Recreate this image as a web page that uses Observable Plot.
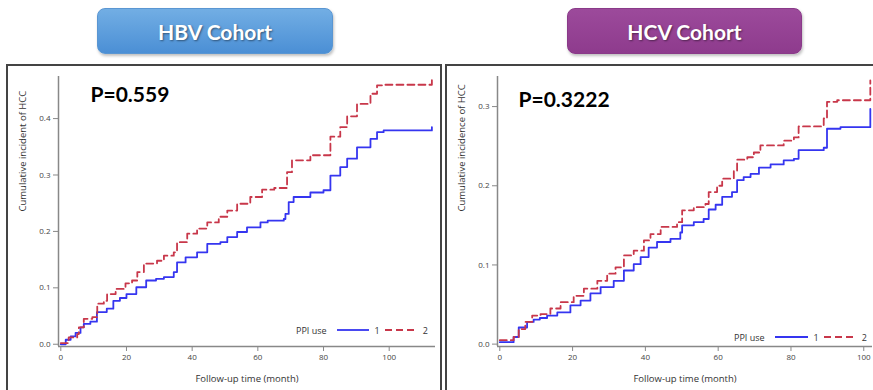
<!DOCTYPE html>
<html>
<head>
<meta charset="utf-8">
<script src="https://cdn.jsdelivr.net/npm/d3@7"></script>
<script src="https://cdn.jsdelivr.net/npm/@observablehq/plot@0.6"></script>
<style>
  html, body { margin: 0; padding: 0; background: #fff; }
  body { width: 873px; height: 390px; position: relative; overflow: hidden; font-family: 'Open Sans', sans-serif; }
  .btn { position: absolute; top: 8px; height: 46px; border-radius: 8px; color: #fff;
         font-family: Lato, 'Open Sans', sans-serif; font-weight: 700; font-size: 21px;
         display: flex; align-items: center; justify-content: center;
         text-shadow: 1px 1px 2px rgba(0,0,0,0.45); box-shadow: 1px 2px 3px rgba(0,0,0,0.25); box-sizing: border-box; }
  #hbv { left: 97px; width: 236px; background: linear-gradient(#72aee4, #4b8fd5); border: 1px solid #5a96d2; }
  #hcv { left: 567px; width: 235px; background: linear-gradient(#9c4a9b, #8e3b8d); border: 1px solid #8a3a89; }
  .box { position: absolute; top: 64px; height: 340px; border: 2px solid #444; box-sizing: border-box; }
  .plot { position: absolute; top: 65px; }
  .legend { position: absolute; display: flex; align-items: center; font-size: 9px; color: #333; height: 12px; }
  .legend svg { display: block; }
</style>
</head>
<body>
<div id="hbv" class="btn">HBV Cohort</div>
<div id="hcv" class="btn">HCV Cohort</div>
<div class="box" style="left:6px;width:436px;"></div>
<div class="box" style="left:445px;width:440px;"></div>
<div id="left" class="plot" style="left:7px;"></div>
<div id="right" class="plot" style="left:446px;"></div>
<div id="legL" class="legend" style="left:296px;top:324px;"></div>
<div id="legR" class="legend" style="left:734px;top:331px;"></div>
<script>
// ---- Data ----
const xTicksHBV = [0, 20, 40, 60, 80, 100];
const yTicksHBV = [0, 0.1, 0.2, 0.3, 0.4];
const xTicksHCV = [0, 20, 40, 60, 80, 100];
const yTicksHCV = [0, 0.1, 0.2, 0.3];
const groups = ["1", "2"];
const pHBV = "P=0.559";
const pHCV = "P=0.3222";

// HBV cohort, PPI use = 1 (time in months, cumulative incidence)
const hbv1T = [0,1.5,3,4.5,6,7,9,11,14,16,18,20,23,26,29,31.4,34.4,35.4,38,41.5,44.6,48.6,50.7,53.7,56.7,60.8,63,67.9,68.4,69.4,70.9,76,80,82.1,85.1,87.2,90.2,94.3,96.3,98.3,113];
const hbv1V = [0,0.008,0.014,0.020,0.030,0.036,0.040,0.057,0.063,0.077,0.082,0.089,0.101,0.113,0.116,0.119,0.128,0.145,0.154,0.163,0.178,0.181,0.190,0.199,0.207,0.216,0.219,0.222,0.231,0.252,0.261,0.269,0.273,0.299,0.314,0.329,0.349,0.364,0.376,0.379,0.385];
// HBV cohort, PPI use = 2
const hbv2T = [0,2.4,5,5.5,7,9.6,11.1,13.1,14.1,16.7,19.7,21.7,23.3,25.3,29.3,31.4,34.4,35.4,38.5,41.5,44.6,48.1,50.7,53.7,57.7,61.3,65,68.9,70.4,76,82.1,85.1,87.2,90.2,94.3,96.3,97.8,113];
const hbv2V = [0.002,0.012,0.018,0.030,0.045,0.048,0.072,0.077,0.089,0.098,0.108,0.113,0.128,0.143,0.148,0.157,0.163,0.181,0.196,0.205,0.216,0.226,0.237,0.249,0.261,0.274,0.277,0.305,0.326,0.335,0.368,0.385,0.404,0.426,0.444,0.459,0.460,0.468];
// HCV cohort, PPI use = 1
const hcv1T = [0,3.8,5.2,7.5,9.3,11,13,15.8,19.4,22.2,24.9,27.7,31.3,34.1,36.8,38.7,40.9,43.2,46.9,49.6,50.1,53.3,56,57.4,59.3,61.1,63.8,65.2,67,68.9,71.2,74.4,78,80.8,82.1,89,89.9,93.6,101.8];
const hcv1V = [0.0025,0.009,0.021,0.028,0.031,0.033,0.036,0.040,0.049,0.055,0.064,0.072,0.080,0.093,0.101,0.110,0.122,0.129,0.133,0.141,0.150,0.154,0.158,0.170,0.176,0.186,0.192,0.207,0.211,0.215,0.223,0.227,0.232,0.234,0.245,0.248,0.272,0.274,0.297];
// HCV cohort, PPI use = 2
const hcv2T = [0,3.8,5.2,7,8.9,11.2,13.9,16.7,20.3,23.1,26.8,29.5,31.8,34.1,36.8,39.6,41.4,44.2,48.7,50.1,53.3,56.5,57.4,59.7,61.1,64.3,65.2,68,69.8,71.6,78,80.8,82.1,89,89.9,92.7,101.8];
const hcv2V = [0.005,0.009,0.019,0.028,0.036,0.038,0.045,0.053,0.061,0.070,0.080,0.089,0.097,0.112,0.118,0.131,0.139,0.148,0.154,0.169,0.173,0.177,0.192,0.200,0.209,0.219,0.233,0.236,0.242,0.251,0.257,0.261,0.275,0.285,0.306,0.308,0.333];

const BLUE = "#3535f0", RED = "#c8374a";
const toRows = (T, V) => T.map((t, i) => ({t, v: V[i]}));

function panel({width, marginRight, xDomain, yDomain, xTicks, yTicks, s1, s2, pText, pdx, pdy, ylab}) {
  return Plot.plot({
    width, height: 325,
    marginLeft: 51, marginRight, marginTop: 11, marginBottom: 44,
    style: {fontFamily: "'Open Sans', sans-serif", background: "transparent", overflow: "visible"},
    x: {domain: xDomain},
    y: {domain: yDomain},
    marks: [
      Plot.axisX({ticks: xTicks, tickSize: 5, tickPadding: 3, fontSize: 8, stroke: "#888", fill: "#444", label: null}),
      Plot.axisY({ticks: yTicks, tickFormat: d3.format(".1f"), tickSize: 5, tickPadding: 3, fontSize: 8, stroke: "#888", fill: "#444", label: null}),
      Plot.ruleX([xDomain[0]], {stroke: "#888", strokeWidth: 1.5}),
      Plot.ruleY([yDomain[0]], {stroke: "#888", strokeWidth: 1.5}),
      Plot.line(s1, {x: "t", y: "v", curve: "step-after", stroke: BLUE, strokeWidth: 1.8}),
      Plot.line(s2, {x: "t", y: "v", curve: "step-after", stroke: RED, strokeWidth: 1.8, strokeDasharray: "7,4"}),
      Plot.text([pText], {frameAnchor: "top-left", textAnchor: "start", lineAnchor: "middle", dx: pdx, dy: pdy,
                          fontSize: 21, fontWeight: "bold", fontFamily: "Lato, sans-serif", fill: "#000"}),
      Plot.text(["Follow-up time (month)"], {frameAnchor: "bottom", lineAnchor: "middle", dy: 32, fontSize: 9.5, fill: "#333"}),
      Plot.text([ylab], {frameAnchor: "left", lineAnchor: "middle", rotate: -90, dx: -35.5, fontSize: 9.5, fill: "#333"})
    ]
  });
}

document.getElementById("left").append(panel({
  width: 434, marginRight: 6, xDomain: [-0.7, 114.1], yDomain: [-0.004, 0.4746],
  xTicks: xTicksHBV, yTicks: yTicksHBV, s1: toRows(hbv1T, hbv1V), s2: toRows(hbv2T, hbv2V),
  pText: pHBV, pdx: 32, pdy: 19, ylab: "Cumulative incident of HCC"
}));
document.getElementById("right").append(panel({
  width: 427, marginRight: 1, xDomain: [-0.63, 102.4], yDomain: [-0.003, 0.338],
  xTicks: xTicksHCV, yTicks: yTicksHCV, s1: toRows(hcv1T, hcv1V), s2: toRows(hcv2T, hcv2V),
  pText: pHCV, pdx: 21, pdy: 24, ylab: "Cumulative incidence of HCC"
}));

function legend(el, gapA, lenA, gapB, lenB) {
  const node = document.getElementById(el);
  const sw = (color, dash, len) => `<svg width="${len}" height="4"><line x1="0" y1="2" x2="${len}" y2="2" stroke="${color}" stroke-width="1.8" ${dash ? `stroke-dasharray="${dash}"` : ""}/></svg>`;
  node.innerHTML = `<span>PPI use</span><span style="width:${gapA}px"></span>${sw(BLUE, null, lenA)}<span style="margin:0 5px 0 6px">${groups[0]}</span>${sw(RED, "7,4", lenB)}<span style="margin-left:5px">${groups[1]}</span>`;
}
legend("legL", 10, 32, 0, 33);
legend("legR", 10, 33, 0, 33);
</script>
</body>
</html>
